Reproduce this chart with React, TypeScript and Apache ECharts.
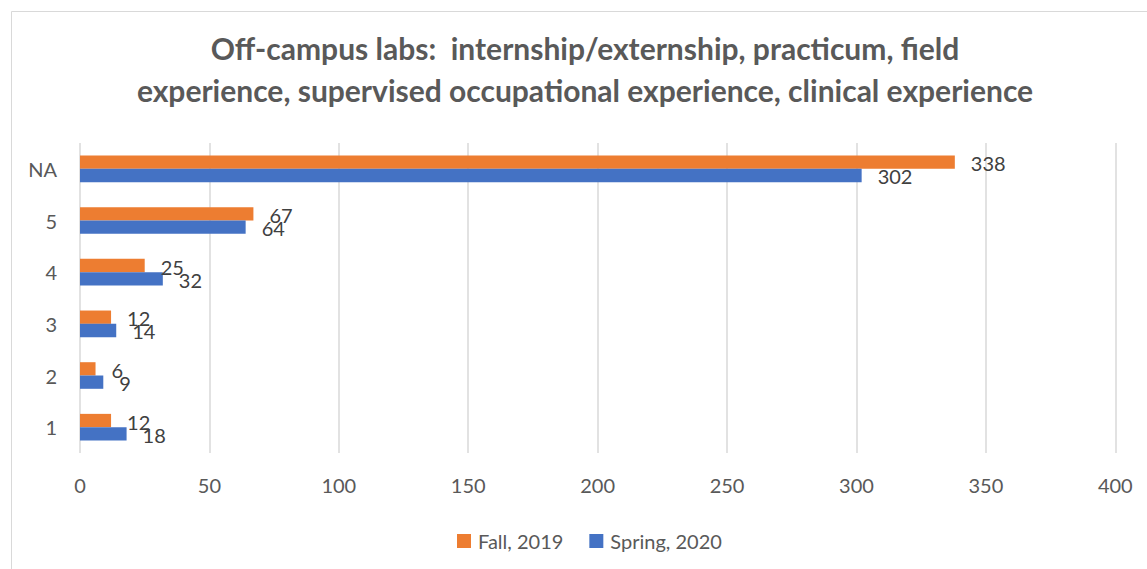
import React, { useEffect, useRef } from "react";
import * as echarts from "echarts";

const categories = ["1", "2", "3", "4", "5", "NA"];
const fall2019 = [12, 6, 12, 25, 67, 338];
const spring2020 = [18, 9, 14, 32, 64, 302];
const xTicks = { min: 0, max: 400, interval: 50 };
const titleLines = [
  "Off-campus labs:  internship/externship, practicum, field",
  "experience, supervised occupational experience, clinical experience",
];

export default function App() {
  const ref = useRef<HTMLDivElement>(null);
  useEffect(() => {
    if (!ref.current) return;
    const chart = echarts.init(ref.current, undefined, { renderer: "svg" });
    const font = "Lato";
    const label = {
      show: true,
      position: "right" as const,
      distance: 16,
      offset: [0, 1],
      color: "#404040",
      fontFamily: font,
      fontSize: 20,
    };
    chart.setOption({
      animation: false,
      backgroundColor: "#ffffff",
      graphic: [
        {
          type: "rect",
          shape: { x: 11.5, y: 11.5, width: 1200, height: 600 },
          style: { fill: "none", stroke: "#d9d9d9", lineWidth: 1 },
          silent: true,
        },
        {
          type: "text",
          x: 585,
          y: 27,
          style: {
            text: titleLines.join("\n"),
            fill: "#595959",
            font: `bold 30px ${font}`,
            lineHeight: 42,
            align: "center",
            verticalAlign: "top",
          },
        },
      ],
      legend: {
        left: 452,
        top: 526,
        itemWidth: 14,
        itemHeight: 14,
        itemGap: 26,
        icon: "rect",
        textStyle: {
          color: "#595959",
          fontFamily: font,
          fontSize: 20,
          padding: [0, 0, 0, 2],
        },
        data: ["Fall, 2019", "Spring, 2020"],
      },
      grid: { left: 80, right: 31.7, top: 143, bottom: 116, containLabel: false },
      xAxis: {
        type: "value",
        min: xTicks.min,
        max: xTicks.max,
        interval: xTicks.interval,
        axisLine: { show: false },
        axisTick: { show: false },
        splitLine: { show: true, lineStyle: { color: "#d9d9d9", width: 1.5 } },
        axisLabel: { color: "#595959", fontFamily: font, fontSize: 20, margin: 22 },
      },
      yAxis: {
        type: "category",
        data: categories,
        axisLine: { show: false },
        axisTick: { show: false },
        axisLabel: { color: "#595959", fontFamily: font, fontSize: 20, margin: 23 },
      },
      series: [
        {
          name: "Fall, 2019",
          type: "bar",
          data: fall2019,
          barWidth: 13.3,
          barGap: "0%",
          itemStyle: { color: "#ED7D31" },
          label,
        },
        {
          name: "Spring, 2020",
          type: "bar",
          data: spring2020,
          barWidth: 13.3,
          barGap: "0%",
          itemStyle: { color: "#4472C4" },
          label,
        },
      ],
    });
    return () => chart.dispose();
  }, []);
  return (
    <div
      ref={ref}
      style={{ position: "fixed", left: 0, top: 0, width: 1147, height: 569 }}
    />
  );
}
